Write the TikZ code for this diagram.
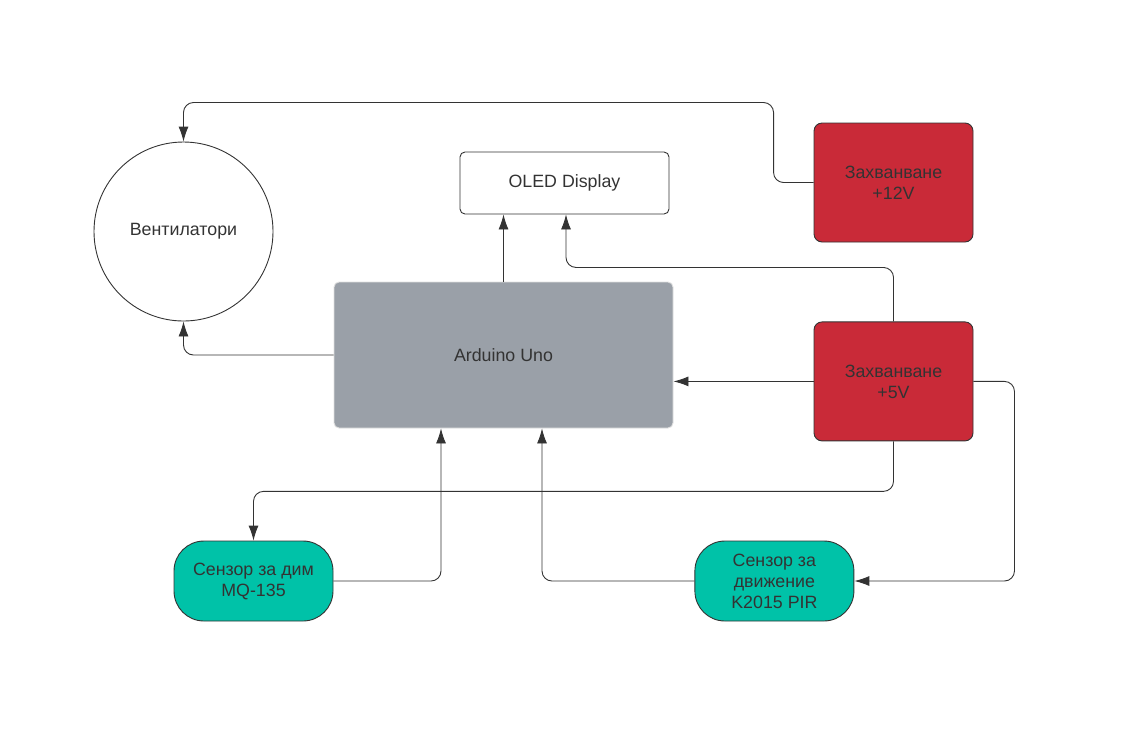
\documentclass[tikz,border=0pt]{standalone}
\usepackage{fontspec}
\setmainfont{Liberation Sans}
\usetikzlibrary{arrows.meta,positioning,shapes.geometric}
\definecolor{linegray}{HTML}{333333}
\definecolor{unogray}{HTML}{9AA0A8}
\definecolor{relayred}{HTML}{C92A38}
\definecolor{sensorgreen}{HTML}{00C2A8}

\begin{document}
\begin{tikzpicture}[x=1pt,y=-1pt,>={Latex[length=15pt,width=10pt]}]
        \tikzset{base/.style={align=center, inner sep=0pt, text=linegray, font=\fontsize{17.8}{21}\selectfont, line width=0.9pt},
        block/.style={base, draw=linegray, rectangle, rounded corners=5pt, minimum width=209pt, minimum height=62pt},
        ublock/.style={base, draw=black!12, fill=unogray, rectangle, rounded corners=5pt, minimum width=339pt, minimum height=146pt},
        rblock/.style={base, draw=linegray, fill=relayred, rectangle, rounded corners=8pt, minimum width=159pt, minimum height=119pt},
        sblock/.style={base, draw=linegray, fill=sensorgreen, rectangle, rounded corners=30pt, minimum width=159pt, minimum height=80pt},
        fblock/.style={base, draw=linegray, circle, minimum size=179pt},
        conn/.style={draw=linegray, line width=0.9pt, rounded corners=10pt, ->},
        }
        \useasboundingbox (0,0) rectangle (1145,740);

        \node [fblock] (fan) at (183.5,231.5) {Вентилатори};
        \node [block] (oled) at (564.5,183) {OLED Display};
        \node [ublock] (uno) at (503.5,355) {Arduino Uno};
        \node [rblock] (v12) at (893.5,182.5) {Захванване\\+12V};
        \node [rblock, below=79pt of v12] (v5) {Захванване\\+5V};
        \node [sblock] (smoke) at (253.5,581) {Сензор за дим\\MQ-135};
        \node [sblock, right=361pt of smoke] (motion) {Сензор за\\движение\\K2015 PIR};

%%% paths
        \draw [conn] (v12.west) -- ++(-40,0) -- ++(0,-80) -| (fan.north);
        \draw [conn] (uno.west) -| (fan.south);
        \draw [conn] (uno.north) -- (uno.north |- oled.south);
        \draw [conn] (v5.north) -- ++(0,-54) -| ([xshift=1.5pt]oled.south);
        \draw [conn] (v5.west) -- (uno.east |- v5.west);
        \draw [conn] (v5.south) -- ++(0,50) -| (smoke.north);
        \draw [conn] (v5.east) -- ++(41,0) |- (motion.east);
        \draw [conn] (smoke.east) -| ([xshift=-62.5pt]uno.south);
        \draw [conn] (motion.west) -| ([xshift=38.5pt]uno.south);
\end{tikzpicture}
\end{document}
